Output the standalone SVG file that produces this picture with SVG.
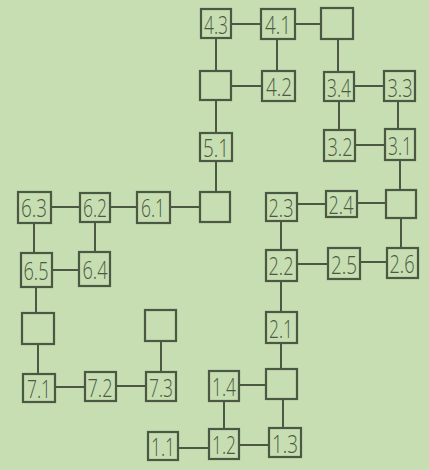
<svg xmlns="http://www.w3.org/2000/svg" width="429" height="470" viewBox="0 0 429 470">
<style>
.bg{fill:#c6deb1}
.b{fill:none;stroke:#4b5844;stroke-width:2.2}
.c line{stroke:#4b5844;stroke-width:2}
.t{font-family:"Open Sans","Lato","DejaVu Sans Condensed",sans-serif;font-size:26px;font-weight:300;fill:#4b5844;text-anchor:middle;dominant-baseline:central}
</style>
<rect class="bg" x="0" y="0" width="429" height="470"/>
<g id="connectors" class="c">
<line x1="231" y1="24" x2="261" y2="24"/>
<line x1="295" y1="24" x2="321" y2="24"/>
<line x1="216" y1="38" x2="216" y2="71"/>
<line x1="277" y1="39" x2="277" y2="71"/>
<line x1="231" y1="86" x2="262" y2="86"/>
<line x1="338" y1="39" x2="338" y2="72"/>
<line x1="354" y1="86" x2="384" y2="86"/>
<line x1="339" y1="101" x2="339" y2="130"/>
<line x1="398" y1="101" x2="398" y2="129"/>
<line x1="355" y1="145" x2="385" y2="145"/>
<line x1="400" y1="160" x2="400" y2="190"/>
<line x1="216" y1="100" x2="216" y2="133"/>
<line x1="216" y1="161" x2="216" y2="192"/>
<line x1="170" y1="207" x2="200" y2="207"/>
<line x1="110" y1="207" x2="137" y2="207"/>
<line x1="51" y1="207" x2="80" y2="207"/>
<line x1="34" y1="223" x2="34" y2="253"/>
<line x1="95" y1="222" x2="95" y2="252"/>
<line x1="52" y1="270" x2="79" y2="270"/>
<line x1="36" y1="287" x2="36" y2="313"/>
<line x1="38" y1="344" x2="38" y2="374"/>
<line x1="55" y1="387" x2="85" y2="387"/>
<line x1="116" y1="386" x2="146" y2="386"/>
<line x1="161" y1="341" x2="161" y2="372"/>
<line x1="357" y1="203" x2="386" y2="203"/>
<line x1="297" y1="204" x2="326" y2="204"/>
<line x1="281" y1="221" x2="281" y2="250"/>
<line x1="401" y1="218" x2="401" y2="248"/>
<line x1="360" y1="262" x2="387" y2="262"/>
<line x1="297" y1="264" x2="328" y2="264"/>
<line x1="281" y1="281" x2="281" y2="312"/>
<line x1="281" y1="343" x2="281" y2="369"/>
<line x1="239" y1="385" x2="266" y2="385"/>
<line x1="283" y1="399" x2="283" y2="428"/>
<line x1="224" y1="401" x2="224" y2="429"/>
<line x1="178" y1="448" x2="209" y2="448"/>
<line x1="239" y1="445" x2="269" y2="445"/>
</g>
<g id="n43"><rect class="b" x="201" y="9" width="30" height="29"/><text class="t" x="216" y="24" textLength="24" lengthAdjust="spacingAndGlyphs">4.3</text></g>
<g id="n41"><rect class="b" x="261" y="9" width="34" height="30"/><text class="t" x="278" y="24" textLength="26" lengthAdjust="spacingAndGlyphs">4.1</text></g>
<g id="e1"><rect class="b" x="321" y="8" width="32" height="31"/></g>
<g id="e2"><rect class="b" x="200" y="71" width="31" height="29"/></g>
<g id="n42"><rect class="b" x="262" y="71" width="33" height="30"/><text class="t" x="279" y="86" textLength="26" lengthAdjust="spacingAndGlyphs">4.2</text></g>
<g id="n34"><rect class="b" x="324" y="72" width="30" height="29"/><text class="t" x="339" y="87" textLength="24" lengthAdjust="spacingAndGlyphs">3.4</text></g>
<g id="n33"><rect class="b" x="384" y="71" width="31" height="30"/><text class="t" x="400" y="87" textLength="25" lengthAdjust="spacingAndGlyphs">3.3</text></g>
<g id="n32"><rect class="b" x="324" y="130" width="31" height="31"/><text class="t" x="340" y="146" textLength="25" lengthAdjust="spacingAndGlyphs">3.2</text></g>
<g id="n31"><rect class="b" x="385" y="129" width="30" height="31"/><text class="t" x="400" y="145" textLength="24" lengthAdjust="spacingAndGlyphs">3.1</text></g>
<g id="n51"><rect class="b" x="200" y="133" width="32" height="28"/><text class="t" x="216" y="147" textLength="26" lengthAdjust="spacingAndGlyphs">5.1</text></g>
<g id="e3"><rect class="b" x="200" y="192" width="30" height="30"/></g>
<g id="n23"><rect class="b" x="266" y="193" width="31" height="28"/><text class="t" x="281" y="207" textLength="25" lengthAdjust="spacingAndGlyphs">2.3</text></g>
<g id="n24"><rect class="b" x="326" y="191" width="31" height="26"/><text class="t" x="341" y="204" textLength="25" lengthAdjust="spacingAndGlyphs">2.4</text></g>
<g id="e4"><rect class="b" x="386" y="190" width="30" height="28"/></g>
<g id="n63"><rect class="b" x="18" y="192" width="33" height="31"/><text class="t" x="34" y="207" textLength="26" lengthAdjust="spacingAndGlyphs">6.3</text></g>
<g id="n62"><rect class="b" x="80" y="193" width="30" height="29"/><text class="t" x="95" y="207" textLength="24" lengthAdjust="spacingAndGlyphs">6.2</text></g>
<g id="n61"><rect class="b" x="137" y="192" width="33" height="31"/><text class="t" x="153" y="207" textLength="24" lengthAdjust="spacingAndGlyphs">6.1</text></g>
<g id="n22"><rect class="b" x="266" y="250" width="31" height="31"/><text class="t" x="281" y="265" textLength="25" lengthAdjust="spacingAndGlyphs">2.2</text></g>
<g id="n25"><rect class="b" x="328" y="248" width="32" height="31"/><text class="t" x="344" y="264" textLength="26" lengthAdjust="spacingAndGlyphs">2.5</text></g>
<g id="n26"><rect class="b" x="387" y="248" width="31" height="30"/><text class="t" x="402" y="263" textLength="25" lengthAdjust="spacingAndGlyphs">2.6</text></g>
<g id="n65"><rect class="b" x="21" y="253" width="31" height="34"/><text class="t" x="36" y="270" textLength="25" lengthAdjust="spacingAndGlyphs">6.5</text></g>
<g id="n64"><rect class="b" x="79" y="252" width="31" height="34"/><text class="t" x="95" y="269" textLength="25" lengthAdjust="spacingAndGlyphs">6.4</text></g>
<g id="e5"><rect class="b" x="22" y="313" width="32" height="31"/></g>
<g id="e6"><rect class="b" x="145" y="310" width="31" height="31"/></g>
<g id="n21"><rect class="b" x="266" y="312" width="31" height="31"/><text class="t" x="281" y="328" textLength="24" lengthAdjust="spacingAndGlyphs">2.1</text></g>
<g id="n71"><rect class="b" x="23" y="374" width="32" height="28"/><text class="t" x="39" y="388" textLength="24" lengthAdjust="spacingAndGlyphs">7.1</text></g>
<g id="n72"><rect class="b" x="85" y="372" width="31" height="29"/><text class="t" x="100" y="387" textLength="25" lengthAdjust="spacingAndGlyphs">7.2</text></g>
<g id="n73"><rect class="b" x="146" y="372" width="30" height="29"/><text class="t" x="161" y="387" textLength="24" lengthAdjust="spacingAndGlyphs">7.3</text></g>
<g id="n14"><rect class="b" x="209" y="371" width="30" height="30"/><text class="t" x="224" y="386" textLength="24" lengthAdjust="spacingAndGlyphs">1.4</text></g>
<g id="e7"><rect class="b" x="266" y="369" width="31" height="30"/></g>
<g id="n11"><rect class="b" x="148" y="432" width="30" height="28"/><text class="t" x="163" y="446" textLength="24" lengthAdjust="spacingAndGlyphs">1.1</text></g>
<g id="n12"><rect class="b" x="209" y="429" width="30" height="30"/><text class="t" x="224" y="444" textLength="24" lengthAdjust="spacingAndGlyphs">1.2</text></g>
<g id="n13"><rect class="b" x="269" y="428" width="32" height="29"/><text class="t" x="285" y="443" textLength="26" lengthAdjust="spacingAndGlyphs">1.3</text></g>
</svg>
